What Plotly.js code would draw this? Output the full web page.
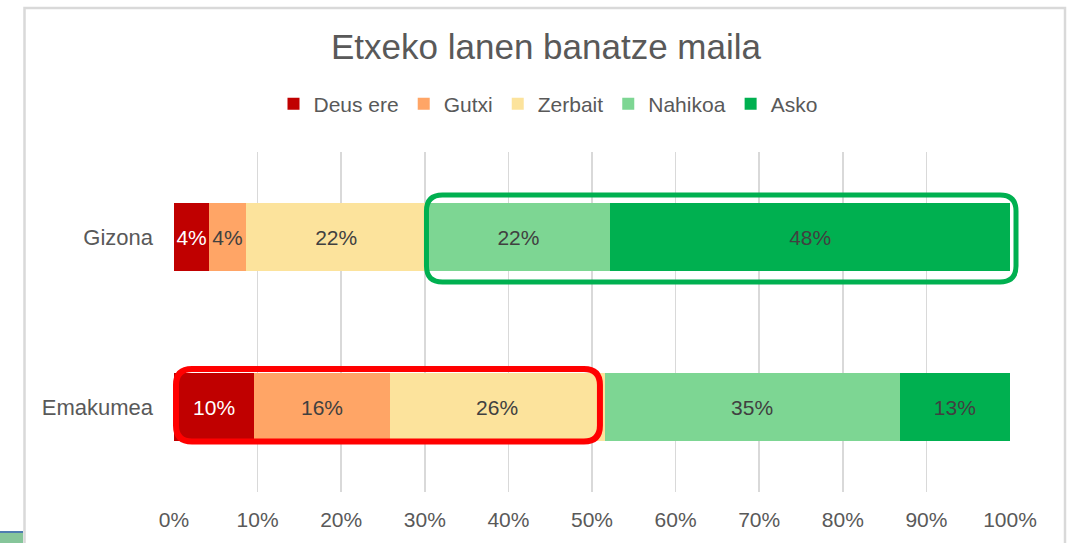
<!DOCTYPE html>
<html>
<head>
<meta charset="utf-8">
<script src="https://cdn.plot.ly/plotly-3.0.1.min.js"></script>
<style>html,body{margin:0;padding:0;background:#fff;}#chart{width:1069px;height:543px;}</style>
</head>
<body>
<div id="chart"></div>
<script>
// ---- data ----
const categories = ['Gizona', 'Emakumea'];
const seriesNames = ['Deus ere', 'Gutxi', 'Zerbait', 'Nahikoa', 'Asko'];
const deusEre = [4.2, 9.6];
const gutxi   = [4.4, 16.2];
const zerbait = [21.6, 25.7];
const nahikoa = [22.0, 35.3];
const asko    = [47.8, 13.2];
const xTickValues = [0, 10, 20, 30, 40, 50, 60, 70, 80, 90, 100];

// ---- styles ----
const seriesColors = ['#C00000', '#FFA566', '#FCE39C', '#7DD693', '#00B050'];
const labelColors = ['#FFFFFF', '#404040', '#404040', '#404040', '#404040'];
const seriesValues = [deusEre, gutxi, zerbait, nahikoa, asko];
const FONT = 'Liberation Sans, Arial, sans-serif';

const traces = seriesNames.map((name, i) => ({
  type: 'bar',
  orientation: 'h',
  name: name,
  y: categories,
  x: seriesValues[i],
  marker: {color: seriesColors[i], line: {width: 0}},
  text: seriesValues[i],
  texttemplate: '%{x:.0f}%',
  textposition: 'inside',
  insidetextanchor: 'middle',
  textangle: 0,
  constraintext: 'none',
  cliponaxis: false,
  textfont: {family: FONT, size: 21, color: labelColors[i]},
  hoverinfo: 'skip'
}));

// layout geometry (pixels)
const ML = 174, MR = 59, MT = 152, MB = 51;
const W = 1069, H = 543;
const PW = W - ML - MR, PH = H - MT - MB;
const X_MAX = 100;
const px2paperX = p => (p - ML) / PW;
const px2paperY = p => (H - MB - p) / PH;
// data -> paper (x range [0,100]; y categories reversed over [-0.5, 1.5])
const xData2Paper = v => v / X_MAX;
const yCat2Paper = idx => (categories.length - 0.5 - idx) / categories.length;

function cumStart(catIdx, seriesIdx) {
  let s = 0;
  for (let k = 0; k < seriesIdx; k++) s += seriesValues[k][catIdx];
  return s;
}
// rounded rectangle in paper coords; pads and radius in px
function roundedPath(x0, x1, yTop, yBot, rpx) {
  const rx = rpx / PW, ry = rpx / PH;
  // yTop > yBot in paper coords
  return `M${x0 + rx},${yTop} L${x1 - rx},${yTop} Q${x1},${yTop} ${x1},${yTop - ry} ` +
         `L${x1},${yBot + ry} Q${x1},${yBot} ${x1 - rx},${yBot} L${x0 + rx},${yBot} ` +
         `Q${x0},${yBot} ${x0},${yBot + ry} L${x0},${yTop - ry} Q${x0},${yTop} ${x0 + rx},${yTop} Z`;
}

// green box: Gizona, Nahikoa + Asko
const gX0 = xData2Paper(cumStart(0, 3));
const gX1 = xData2Paper(cumStart(0, 5)) + 6 / PW;
const gY = yCat2Paper(0);
const greenPath = roundedPath(gX0, gX1, gY + 42 / PH, gY - 45 / PH, 16);
// red box: Emakumea, Deus ere + Gutxi + Zerbait
const rX0 = xData2Paper(cumStart(1, 0)) + 2 / PW;
const rX1 = xData2Paper(cumStart(1, 3)) - 4.6 / PW;
const rY = yCat2Paper(1);
const redPath = roundedPath(rX0, rX1, rY + 38 / PH, rY - 34.5 / PH, 16);

const shapes = [
  {type: 'rect', xref: 'paper', yref: 'paper', layer: 'below',
   x0: px2paperX(24.5), x1: px2paperX(1065), y0: px2paperY(620), y1: px2paperY(8),
   line: {color: '#D9D9D9', width: 2.5}, fillcolor: 'rgba(0,0,0,0)'},
  {type: 'rect', xref: 'paper', yref: 'paper',
   x0: px2paperX(0), x1: px2paperX(23), y0: px2paperY(533), y1: px2paperY(531),
   line: {width: 0}, fillcolor: '#4F7CB0'},
  {type: 'rect', xref: 'paper', yref: 'paper',
   x0: px2paperX(0), x1: px2paperX(23), y0: px2paperY(545), y1: px2paperY(533),
   line: {width: 0}, fillcolor: '#86C59A'},
  {type: 'path', xref: 'paper', yref: 'paper', path: greenPath,
   line: {color: '#00B050', width: 5}, fillcolor: 'rgba(0,0,0,0)'},
  {type: 'path', xref: 'paper', yref: 'paper', path: redPath,
   line: {color: '#FF0000', width: 6}, fillcolor: 'rgba(0,0,0,0)'}
];

const layout = {
  width: W, height: H,
  margin: {l: ML, r: MR, t: MT, b: MB, pad: 0},
  paper_bgcolor: '#FFFFFF', plot_bgcolor: '#FFFFFF',
  barmode: 'stack',
  bargap: 0.6,
  font: {family: FONT, color: '#595959'},
  title: {
    text: 'Etxeko lanen banatze maila',
    font: {family: FONT, size: 35, color: '#595959'},
    xref: 'container', yref: 'container',
    x: 546 / W, xanchor: 'center',
    y: 1 - 47 / H, yanchor: 'middle'
  },
  showlegend: true,
  legend: {
    orientation: 'h',
    x: px2paperX(548), xanchor: 'center',
    y: px2paperY(104), yanchor: 'middle',
    font: {family: FONT, size: 21, color: '#595959'},
    traceorder: 'normal',
    itemclick: false, itemdoubleclick: false
  },
  xaxis: {
    range: [0, X_MAX],
    tickvals: xTickValues,
    ticktext: xTickValues.map(v => v + '%'),
    showgrid: true, gridcolor: '#D9D9D9', gridwidth: 1.5,
    zeroline: false, showline: false,
    ticks: '', ticklabelstandoff: 13,
    tickfont: {family: FONT, size: 21, color: '#595959'},
    fixedrange: true
  },
  yaxis: {
    type: 'category',
    categoryorder: 'array', categoryarray: categories,
    autorange: 'reversed',
    showgrid: false, zeroline: false, showline: false,
    ticks: '', ticklabelstandoff: 20,
    tickfont: {family: FONT, size: 22, color: '#595959'},
    fixedrange: true
  },
  shapes: shapes
};

Plotly.newPlot('chart', traces, layout, {displayModeBar: false, staticPlot: true});
</script>
</body>
</html>
